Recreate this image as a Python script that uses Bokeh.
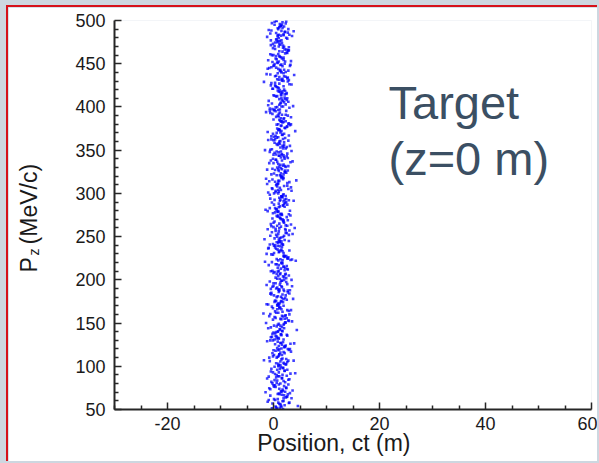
from bokeh.plotting import figure
from bokeh.models import (Label, FixedTicker, GlobalInlineStyleSheet, LinearAxis,
                          PrintfTickFormatter)
from bokeh.embed import file_html
from bokeh.resources import INLINE

# Particle positions (ct, m) and longitudinal momentum (MeV/c) at the target
ct_pos = [
    1.2, 0.3, 2.1, -0.6, 1.8, 0.9, 3.4, 1.5, -0.2, 2.6, 0.7, 1.9, 4.6, 0.1, 1.3, 2.3, -1.1, 0.5, 1.6, 2.9,
    0.8, 2.4, 1.4, -0.4, 1.0, 3.1, 0.2, 1.7, 2.0, -1.5, 0.6, 1.1, 2.7, 0.0, 1.9, 3.6, 0.4, 1.3, 2.2, -0.8,
    1.6, -0.1, 2.5, 0.9, 1.2, 3.0, 0.3, 1.8, -0.9, 2.1, 1.0, 0.5, 4.1, 1.4, 2.8, -0.5, 1.7, 0.7, 2.3, 1.1,
    2.0, 0.6, 1.3, -0.7, 2.9, 1.5, 0.1, 1.9, 3.3, 0.8, -1.8, 1.1, 2.4, 0.4, 1.7, 2.6, -0.2, 1.0, 3.8, 0.9,
    0.7, 1.8, -0.3, 2.3, 1.1, 0.2, 3.2, 1.5, 2.0, -1.2, 0.9, 1.6, 2.7, 0.4, 1.3, -0.6, 2.1, 1.0, 3.9, 0.6,
    1.4, -0.5, 2.2, 0.8, 1.9, 2.8, 0.0, 1.2, -1.4, 2.5, 0.6, 1.6, 3.5, 0.3, 1.0, 2.0, -0.1, 4.4, 1.3, 0.9,
    2.1, 0.5, 1.3, -0.8, 2.6, 1.0, 0.2, 1.7, 3.0, -0.3, 1.5, 0.7, 2.3, 1.9, -1.9, 0.4, 1.1, 2.9, 0.8, 1.6,
    0.9, 2.2, -0.4, 1.4, 0.1, 3.1, 1.8, 0.6, 2.5, 1.0, -1.0, 1.7, 0.3, 2.0, 3.7, 1.2, -0.6, 0.8, 2.7, 1.5,
    1.1, 0.4, 2.4, -0.2, 1.6, 2.9, 0.7, 1.3, -1.3, 2.0, 0.9, 3.4, 0.0, 1.8, 2.6, 0.5, 1.2, -0.7, 2.2, 1.5,
    2.3, 0.8, 1.5, -0.5, 1.0, 3.2, 0.2, 1.9, 2.7, -1.6, 1.2, 0.6, 2.1, 4.2, 1.4, 0.0, 1.7, 2.5, 0.9, -0.2,
    0.6, 1.9, -0.9, 2.2, 1.3, 0.3, 2.8, 1.0, -0.1, 1.6, 3.5, 0.8, 2.0, 1.2, -1.3, 2.6, 0.5, 1.7, 0.1, 2.4,
    1.7, 0.2, 2.5, 1.1, -0.6, 3.0, 0.9, 1.4, 2.1, -0.3, 1.8, 0.5, 2.9, 1.0, -1.7, 1.5, 3.6, 0.7, 2.3, 1.2,
    0.4, 2.0, 1.2, -0.4, 2.7, 1.6, 0.0, 1.9, 3.3, 0.8, -1.1, 1.4, 2.3, 0.6, 1.1, 4.0, -0.2, 1.8, 0.9, 2.6,
    1.3, -0.7, 2.2, 0.7, 1.8, 2.9, 0.3, 1.0, -1.5, 2.4, 1.5, 0.1, 3.1, 1.9, 0.6, -0.1, 2.0, 1.2, 3.8, 0.9,
    2.1, 0.9, -0.3, 1.6, 0.4, 2.6, 1.1, -1.0, 1.8, 3.3, 0.2, 1.4, 2.3, 0.7, 1.9, -0.6, 2.8, 1.0, 0.5, 1.5,
    0.8, 1.5, 2.4, -0.8, 1.2, 0.3, 3.0, 1.7, -0.2, 2.1, 0.6, 1.9, 4.3, 1.0, -1.4, 2.6, 0.1, 1.4, 2.2, 0.9,
    1.6, 0.0, 2.7, 1.1, -0.5, 1.9, 0.7, 3.2, 1.3, 2.0, -1.2, 0.5, 1.8, 2.5, 0.9, 1.4, -0.1, 3.6, 1.0, 2.2,
    0.5, 2.3, 1.0, -0.7, 1.7, 2.8, 0.2, 1.3, -1.6, 2.0, 1.5, 0.8, 3.4, 1.1, -0.3, 2.6, 0.6, 1.9, 0.0, 1.4,
    1.8, 0.6, 2.1, -0.4, 1.2, 3.1, 0.9, -1.1, 1.6, 2.5, 0.3, 1.0, 2.9, 1.4, -0.1, 2.2, 0.7, 4.1, 1.5, 0.4,
    0.9, 2.0, -0.6, 1.4, 2.7, 0.1, 1.7, 3.3, 1.1, -1.4, 0.6, 2.3, 1.3, 0.4, 1.9, 2.9, -0.2, 1.0, 2.4, 1.6,
    1.2, -0.3, 2.6, 0.7, 1.8, 0.2, 3.0, 1.4, -1.0, 2.1, 0.9, 1.6, 3.7, 0.5, 2.3, -0.7, 1.1, 2.8, 0.0, 1.5,
    2.4, 1.0, 0.3, 1.7, -0.5, 2.9, 1.3, 0.6, 2.0, -1.8, 1.5, 3.4, 0.8, 1.9, -0.2, 2.5, 1.1, 0.4, 1.6, 2.2,
    0.7, 1.9, -0.8, 2.3, 1.2, 0.1, 2.7, 1.5, 3.9, -0.4, 1.0, 2.0, 0.5, 1.7, -1.3, 2.6, 0.9, 1.4, 3.1, 0.3,
    1.5, 0.4, 2.2, -0.2, 1.1, 2.8, 0.8, 1.9, -1.0, 2.5, 1.3, 0.0, 3.3, 1.7, 0.6, 2.1, -0.6, 1.2, 2.9, 1.0,
    0.3, 1.6, 2.4, 1.0, -0.5, 1.9, 2.9, 0.7, 1.3, -1.2, 2.1, 0.5, 1.8, 3.5, 1.1, -0.1, 2.6, 0.9, 1.4, 0.2,
    1.9, 0.8, -0.3, 2.2, 1.4, 0.5, 2.7, 1.1, -0.9, 1.7, 3.0, 0.2, 1.5, 2.4, 0.9, -0.6, 1.2, 2.0, 0.6, 3.8,
    0.4, 1.7, 2.5, -0.3, 1.1, 0.8, 2.0, 1.4, -0.9, 3.0, 0.6, 1.9,
    1.5, 0.1, 2.2, 1.0, -0.6, 2.8, 0.7, 1.8, 0.3, 2.4, 1.2, -0.2,
    0.9, 2.1, 0.2, 1.6, 3.2, -0.4, 1.3, 0.6, 2.6, 1.0, -1.2, 1.8,
    1.3, -0.1, 1.9, 0.5, 2.4, 1.1, 0.0, 2.8, 1.6, -0.8, 0.9, 2.1,
    2.2, 0.8, -0.5, 1.5, 0.3, 1.9, 2.6, 1.0, -0.1, 1.4, 3.1, 0.6,
    0.5, 1.6, 2.3, -0.2, 1.2, 0.8, 2.9, 1.7, 0.1, -1.0, 1.4, 2.0,
    1.8, 0.3, 1.1, 2.5, -0.6, 1.5, 0.7, 2.2, 3.3, 0.9, 1.3, -0.1,
    0.2, 1.4, 2.7, 0.8, 1.9, -0.4, 1.1, 0.5, 2.3, 1.6, -1.3, 3.0,
    1.6, 2.4, 0.4, -0.5, 1.2, 2.0, 0.9, 3.5, 1.5, 0.0, 1.9, 0.7,
    0.8, 1.9, -0.3, 1.3, 2.6, 0.4, 1.7, 1.0, -0.9, 2.2, 0.6, 1.5,
    2.0, 1.1, 0.3, 2.7, -0.4, 1.5, 0.8, 1.9, 3.0, 0.1, 1.3, -1.0,
    0.6, 1.8, 2.3, -0.1, 1.0, 2.9, 0.4, 1.5, 2.0, 1.2, -0.7, 0.9,
    1.4, 0.2, 2.5, 1.1, -0.5, 1.7, 3.2, 0.7, 1.9, 0.0, 2.2, 1.3,
    0.9, 2.1, -0.3, 1.5, 0.5, 2.6, 1.2, -1.1, 1.8, 0.3, 2.9, 1.0,
    1.7, 0.4, 1.2, 2.4, -0.7, 0.9, 2.0, 1.5, 3.4, 0.1, 1.3, -0.2,
    0.3, 1.5, 2.2, 0.9, 1.8, -0.4, 2.7, 1.1, 0.6, 1.9, -1.2, 1.4,
    2.3, 0.7, 1.4, -0.2, 1.9, 0.4, 1.1, 2.8, 1.6, -0.8, 0.9, 2.1,
    1.0, 2.5, 0.2, 1.6, -0.6, 2.0, 1.3, 0.6, 3.1, 1.8, 0.0, 1.2,
    0.6, 1.3, 2.2, -0.4, 1.7, 0.9, 2.6, 0.1, 1.5, 2.0, -1.0, 1.1,
    1.9, 0.5, 1.2, 2.8, 0.0, 1.6, -0.7, 2.3, 0.8, 1.4, 3.3, 1.0,
    0.4, 2.0, 1.5, -0.2, 1.1, 2.5, 0.7, 1.8, -0.9, 1.3, 0.2, 2.2,
    1.6, 0.8, -0.4, 2.1, 1.2, 0.3, 2.7, 1.0, 1.9, -0.1, 1.4, 3.0,
    1.1, 2.3, 0.5, 1.7, -0.6, 1.3, 0.0, 2.0, 2.8, 0.8, 1.5, -1.1,
    0.7, 1.4, 2.6, 0.2, 1.9, -0.3, 1.1, 2.2, 0.5, 1.6, 3.2, 0.9,
    1.8, 0.3, 1.0, 2.4, -0.5, 1.5, 0.8, 2.0, 1.2, -0.1, 2.7, 0.6,
    0.5, 1.7, 2.3, 1.0, -0.4, 1.4, 0.2, 2.1, 1.2, 2.8, 0.8, 1.6,
]
pz = [
    52, 61, 55, 66, 50.5, 58, 63, 53, 57, 65, 51, 60, 54, 62, 56, 64, 59, 52.5, 67, 57.5,
    68, 75, 71, 82, 79, 69, 84, 73, 77, 70, 81, 74, 67.5, 78, 83, 72, 76, 80, 70.5, 74.5,
    86, 93, 89, 100, 97, 85, 91, 98, 88, 95, 101, 87, 92, 99, 84.5, 94, 90, 96, 102, 88.5,
    103, 110, 116, 106, 119, 108, 113, 104, 117, 111, 107, 114, 102.5, 118, 109, 105, 115, 112, 106.5, 118.5,
    121, 128, 134, 124, 119.5, 131, 126, 136, 122, 129, 133, 125, 120, 135, 127, 130, 123, 132, 126.5, 134.5,
    137, 145, 151, 140, 148, 153, 139, 143, 150, 136.5, 146, 141, 152, 138, 149, 144, 154, 142, 147, 140.5,
    155, 162, 168, 158, 165, 171, 157, 163, 160, 169, 154.5, 166, 159, 170, 161, 156, 167, 164, 170.5, 158.5,
    172, 179, 185, 175, 182, 188, 174, 180, 177, 186, 171.5, 183, 176, 187, 178, 173, 184, 181, 187.5, 175.5,
    189, 196, 202, 192, 199, 205, 191, 197, 194, 203, 188.5, 200, 193, 204, 195, 190, 201, 198, 206, 192.5,
    207, 214, 220, 210, 217, 223, 209, 215, 212, 221, 206.5, 218, 211, 222, 213, 208, 219, 216, 222.5, 210.5,
    224, 231, 237, 227, 234, 240, 226, 232, 229, 238, 223.5, 235, 228, 239, 230, 225, 236, 233, 239.5, 227.5,
    241, 248, 254, 244, 251, 257, 243, 249, 246, 255, 240.5, 252, 245, 256, 247, 242, 253, 250, 257.5, 244.5,
    259, 266, 272, 262, 269, 275, 261, 267, 264, 273, 258.5, 270, 263, 274, 265, 260, 271, 268, 274.5, 262.5,
    276, 283, 289, 279, 286, 292, 278, 284, 281, 290, 275.5, 287, 280, 291, 282, 277, 288, 285, 291.5, 279.5,
    293, 300, 306, 296, 303, 309, 295, 301, 298, 307, 292.5, 304, 297, 308, 299, 294, 305, 302, 309.5, 296.5,
    311, 318, 324, 314, 321, 327, 313, 319, 316, 325, 310.5, 322, 315, 326, 317, 312, 323, 320, 326.5, 314.5,
    328, 335, 341, 331, 338, 344, 330, 336, 333, 342, 327.5, 339, 332, 343, 334, 329, 340, 337, 343.5, 331.5,
    345, 352, 358, 348, 355, 361, 347, 353, 350, 359, 344.5, 356, 349, 360, 351, 346, 357, 354, 361.5, 348.5,
    363, 370, 376, 366, 373, 379, 365, 371, 368, 377, 362.5, 374, 367, 378, 369, 364, 375, 372, 378.5, 366.5,
    380, 387, 393, 383, 390, 396, 382, 388, 385, 394, 379.5, 391, 384, 395, 386, 381, 392, 389, 395.5, 383.5,
    397, 404, 410, 400, 407, 413, 399, 405, 402, 411, 396.5, 408, 401, 412, 403, 398, 409, 406, 413.5, 400.5,
    415, 422, 428, 418, 425, 431, 417, 423, 420, 429, 414.5, 426, 419, 430, 421, 416, 427, 424, 430.5, 418.5,
    432, 439, 445, 435, 442, 448, 434, 440, 437, 446, 431.5, 443, 436, 447, 438, 433, 444, 441, 447.5, 435.5,
    449, 456, 462, 452, 459, 465, 451, 457, 454, 463, 448.5, 460, 453, 464, 455, 450, 461, 458, 465.5, 452.5,
    467, 474, 480, 470, 477, 483, 469, 475, 472, 481, 466.5, 478, 471, 482, 473, 468, 479, 476, 482.5, 470.5,
    484, 491, 497, 487, 494, 500, 486, 492, 489, 498, 483.5, 495, 488, 499, 490, 485, 496, 493, 499.5, 487.5,
    53.5, 59.5, 64.5, 51.5, 56.5, 62, 66.5, 54.5, 61, 58, 50.8, 63.2,
    70.5, 76.5, 81.5, 68.5, 73.5, 79, 83.5, 71.5, 78, 75, 67.8, 80.2,
    88.5, 94.5, 99.5, 86.5, 91.5, 97, 101.5, 89.5, 96, 93, 85.8, 98.2,
    105.5, 111.5, 116.5, 103.5, 108.5, 114, 118.5, 106.5, 113, 110, 102.8, 115.2,
    122.5, 128.5, 133.5, 120.5, 125.5, 131, 135.5, 123.5, 130, 127, 119.8, 132.2,
    139.5, 145.5, 150.5, 137.5, 142.5, 148, 152.5, 140.5, 147, 144, 136.8, 149.2,
    157.5, 163.5, 168.5, 155.5, 160.5, 166, 170.5, 158.5, 165, 162, 154.8, 167.2,
    174.5, 180.5, 185.5, 172.5, 177.5, 183, 187.5, 175.5, 182, 179, 171.8, 184.2,
    191.5, 197.5, 202.5, 189.5, 194.5, 200, 204.5, 192.5, 199, 196, 188.8, 201.2,
    209.5, 215.5, 220.5, 207.5, 212.5, 218, 222.5, 210.5, 217, 214, 206.8, 219.2,
    226.5, 232.5, 237.5, 224.5, 229.5, 235, 239.5, 227.5, 234, 231, 223.8, 236.2,
    243.5, 249.5, 254.5, 241.5, 246.5, 252, 256.5, 244.5, 251, 248, 240.8, 253.2,
    261.5, 267.5, 272.5, 259.5, 264.5, 270, 274.5, 262.5, 269, 266, 258.8, 271.2,
    278.5, 284.5, 289.5, 276.5, 281.5, 287, 291.5, 279.5, 286, 283, 275.8, 288.2,
    295.5, 301.5, 306.5, 293.5, 298.5, 304, 308.5, 296.5, 303, 300, 292.8, 305.2,
    313.5, 319.5, 324.5, 311.5, 316.5, 322, 326.5, 314.5, 321, 318, 310.8, 323.2,
    330.5, 336.5, 341.5, 328.5, 333.5, 339, 343.5, 331.5, 338, 335, 327.8, 340.2,
    347.5, 353.5, 358.5, 345.5, 350.5, 356, 360.5, 348.5, 355, 352, 344.8, 357.2,
    364.5, 370.5, 375.5, 362.5, 367.5, 373, 377.5, 365.5, 372, 369, 361.8, 374.2,
    382.5, 388.5, 393.5, 380.5, 385.5, 391, 395.5, 383.5, 390, 387, 379.8, 392.2,
    399.5, 405.5, 410.5, 397.5, 402.5, 408, 412.5, 400.5, 407, 404, 396.8, 409.2,
    416.5, 422.5, 427.5, 414.5, 419.5, 425, 429.5, 417.5, 424, 421, 413.8, 426.2,
    434.5, 440.5, 445.5, 432.5, 437.5, 443, 447.5, 435.5, 442, 439, 431.8, 444.2,
    451.5, 457.5, 462.5, 449.5, 454.5, 460, 464.5, 452.5, 459, 456, 448.8, 461.2,
    468.5, 474.5, 479.5, 466.5, 471.5, 477, 481.5, 469.5, 476, 473, 465.8, 478.2,
    485.5, 491.5, 496.5, 483.5, 488.5, 494, 498.5, 486.5, 493, 490, 482.8, 495.2,
]

x_major_ticks = [-20, 0, 20, 40, 60]
x_minor_ticks = [-30, -25, -15, -10, -5, 5, 10, 15, 25, 30, 35, 45, 50, 55]
y_major_ticks = [50, 100, 150, 200, 250, 300, 350, 400, 450, 500]
y_minor_ticks = [60, 70, 80, 90, 110, 120, 130, 140, 160, 170, 180, 190, 210, 220, 230, 240,
                 260, 270, 280, 290, 310, 320, 330, 340, 360, 370, 380, 390, 410, 420, 430, 440,
                 460, 470, 480, 490]

FONT = "Liberation Sans"
AXIS_COLOR = "#262626"
TEXT_COLOR = "#1a1a1a"
NBSP = "\u00a0"

p = figure(
    width=591, height=456,
    x_range=(-30, 60), y_range=(50, 500),
    output_backend="svg", toolbar_location=None,
    min_border_left=106, min_border_right=8, min_border_top=13, min_border_bottom=54,
    background_fill_color="white", border_fill_color="white",
)
p.outline_line_color = None
p.grid.visible = False

# page backdrop with a thin red frame on the top and left edges
p.stylesheets = [GlobalInlineStyleSheet(css="body { background: #cdd7e0; margin: 0; }")]
p.styles = {
    "margin-left": "6px", "margin-top": "5px",
    "border-left": "2px solid #d6111a", "border-top": "2px solid #d6111a",
}

p.xaxis.ticker = FixedTicker(ticks=x_major_ticks, minor_ticks=x_minor_ticks)
p.yaxis.ticker = FixedTicker(ticks=y_major_ticks, minor_ticks=y_minor_ticks)

for ax in (p.xaxis[0], p.yaxis[0]):
    ax.formatter = PrintfTickFormatter(format="%d")
    ax.axis_line_color = AXIS_COLOR
    ax.axis_line_width = 2
    ax.major_tick_line_color = AXIS_COLOR
    ax.minor_tick_line_color = AXIS_COLOR
    ax.major_tick_line_width = 1.5
    ax.minor_tick_line_width = 1.5
    ax.major_tick_in = 7
    ax.major_tick_out = 0
    ax.minor_tick_in = 4
    ax.minor_tick_out = 0
    ax.major_label_text_font = FONT
    ax.major_label_text_font_size = "18px"
    ax.major_label_text_color = TEXT_COLOR
    ax.axis_label_text_font = FONT
    ax.axis_label_text_font_style = "normal"
    ax.axis_label_text_color = TEXT_COLOR

p.xaxis.major_label_standoff = 7
p.yaxis.major_label_standoff = 9

# x title, nudged left of the axis centre by trailing non-breaking spaces
p.xaxis.axis_label = "Position, ct (m)" + NBSP * 6
p.xaxis.axis_label_text_font_size = "23px"
p.xaxis.axis_label_standoff = -3

# subscript "z" of P_z sits on the tick axis; the padding pushes it down the axis
p.yaxis.axis_label = "z" + NBSP * 19
p.yaxis.axis_label_text_font_size = "14px"
p.yaxis.axis_label_standoff = 30

# outer, tick-less axis carrying the main part of the y title
title_axis = LinearAxis(
    ticker=FixedTicker(ticks=[]),
    axis_line_color=None, major_tick_line_color=None, minor_tick_line_color=None,
    major_label_text_font_size="0px",
    axis_label="P" + NBSP * 2 + "(MeV/c)" + NBSP,
    axis_label_text_font=FONT, axis_label_text_font_size="23px",
    axis_label_text_font_style="normal", axis_label_text_color=TEXT_COLOR,
    axis_label_standoff=-18,
)
p.add_layout(title_axis, "left")

p.scatter(ct_pos, pz, marker="square", size=2.6,
          fill_color="#0000ff", fill_alpha=0.75, line_color=None)

# location annotation
p.add_layout(Label(x=21.7, y=405, text="Target", text_font=FONT,
                   text_font_size="47px", text_color="#3b4f63",
                   text_align="left", text_baseline="alphabetic"))
p.add_layout(Label(x=21.7, y=340, text="(z=0 m)", text_font=FONT,
                   text_font_size="47px", text_color="#3b4f63",
                   text_align="left", text_baseline="alphabetic"))

open("out.html", "w").write(file_html(p, INLINE))
